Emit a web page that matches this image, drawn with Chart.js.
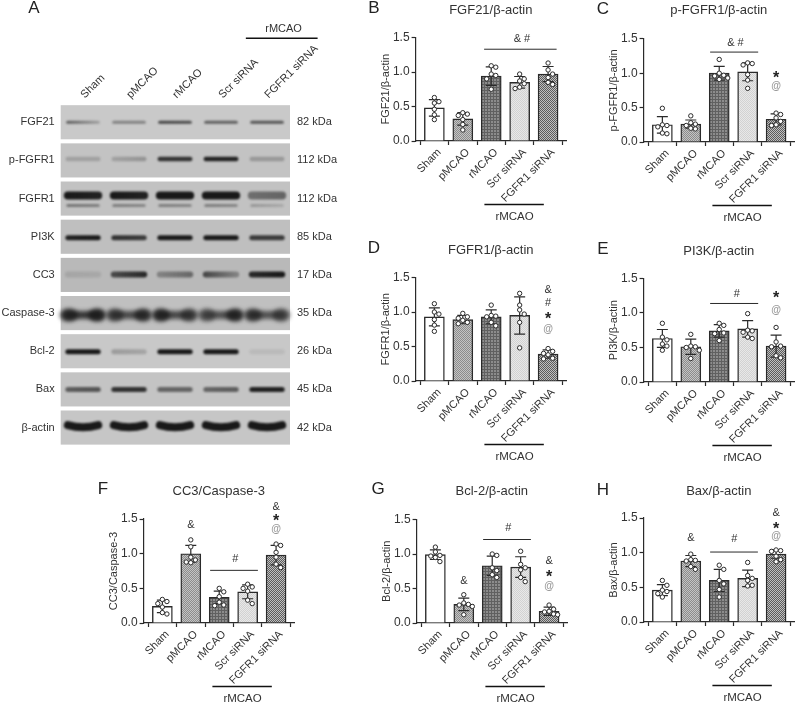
<!DOCTYPE html>
<html>
<head>
<meta charset="utf-8">
<title>Blots and densitometry</title>
<script src="https://cdn.jsdelivr.net/npm/chart.js@4"></script>
<style>
  html, body { margin: 0; padding: 0; background: #fff; }
  #page { position: relative; width: 800px; height: 703px; overflow: hidden; font-family: "Liberation Sans", Arial, sans-serif; }
  #page canvas { position: absolute; }
  .letter { position: absolute; font-size: 17px; line-height: 20px; color: #222; transform: translate(-50%, -50%); }
</style>
</head>
<body>
<div id="page"></div>
<script>
const groups = ['Sham', 'pMCAO', 'rMCAO', 'Scr siRNA', 'FGFR1 siRNA'];
const blotProteins = ['FGF21', 'p-FGFR1', 'FGFR1', 'PI3K', 'CC3', 'Caspase-3', 'Bcl-2', 'Bax', 'β-actin'];
const blotSizes = ['82 kDa', '112 kDa', '112 kDa', '85 kDa', '17 kDa', '35 kDa', '26 kDa', '45 kDa', '42 kDa'];
const yTicks = [0, 0.5, 1, 1.5];

// Bar heights, SD and the single animals
const fgf21Means = [0.48, 0.32, 0.94, 0.85, 0.97];
const fgf21Sd = [0.12, 0.09, 0.135, 0.085, 0.11];
const fgf21Dots = [[0.63, 0.57, 0.55, 0.46, 0.38, 0.31], [0.41, 0.39, 0.37, 0.31, 0.24, 0.16], [1.09, 1.07, 0.97, 0.95, 0.90, 0.75], [0.97, 0.90, 0.87, 0.83, 0.78, 0.76], [1.13, 1.03, 0.97, 0.92, 0.85, 0.82]];

const pFgfr1Means = [0.25, 0.26, 1.0, 1.02, 0.33];
const pFgfr1Sd = [0.12, 0.06, 0.1, 0.13, 0.08];
const pFgfr1Dots = [[0.49, 0.25, 0.24, 0.22, 0.13, 0.12], [0.38, 0.28, 0.26, 0.24, 0.2, 0.19], [1.2, 1.0, 0.97, 0.96, 0.93, 0.91], [1.15, 1.14, 1.12, 0.98, 0.9, 0.78], [0.42, 0.40, 0.35, 0.30, 0.25, 0.24]];

const fgfr1Means = [0.93, 0.89, 0.93, 0.95, 0.39];
const fgfr1Sd = [0.13, 0.06, 0.1, 0.27, 0.06];
const fgfr1Dots = [[1.12, 1.0, 0.97, 0.89, 0.81, 0.72], [0.98, 0.93, 0.91, 0.88, 0.85, 0.83], [1.1, 0.95, 0.94, 0.93, 0.85, 0.8], [1.27, 1.1, 1.03, 0.97, 0.85, 0.48], [0.47, 0.43, 0.4, 0.38, 0.33, 0.32]];

const pi3kMeans = [0.63, 0.51, 0.74, 0.77, 0.52];
const pi3kSd = [0.13, 0.11, 0.09, 0.12, 0.16];
const pi3kDots = [[0.85, 0.65, 0.61, 0.55, 0.52, 0.46], [0.69, 0.52, 0.51, 0.50, 0.46, 0.34], [0.85, 0.82, 0.76, 0.71, 0.7, 0.6], [0.99, 0.75, 0.74, 0.72, 0.65, 0.63], [0.79, 0.58, 0.52, 0.51, 0.38, 0.35]];

const cc3Means = [0.24, 1.0, 0.37, 0.45, 0.98];
const cc3Sd = [0.09, 0.12, 0.09, 0.1, 0.14];
const cc3Dots = [[0.34, 0.31, 0.28, 0.23, 0.15, 0.13], [1.2, 1.1, 0.95, 0.91, 0.88, 0.87], [0.5, 0.45, 0.38, 0.3, 0.26, 0.25], [0.56, 0.52, 0.5, 0.46, 0.33, 0.28], [1.14, 1.12, 1.02, 0.95, 0.85, 0.8]];

const bcl2Means = [0.99, 0.27, 0.83, 0.81, 0.17];
const bcl2Sd = [0.07, 0.09, 0.14, 0.15, 0.06];
const bcl2Dots = [[1.1, 1.03, 0.98, 0.97, 0.95, 0.89], [0.41, 0.29, 0.27, 0.26, 0.24, 0.12], [1.0, 0.98, 0.8, 0.76, 0.7, 0.66], [1.04, 0.85, 0.8, 0.77, 0.66, 0.6], [0.26, 0.2, 0.17, 0.16, 0.13, 0.12]];

const baxMeans = [0.46, 0.88, 0.6, 0.63, 0.98];
const baxSd = [0.08, 0.08, 0.16, 0.12, 0.06];
const baxDots = [[0.6, 0.53, 0.46, 0.44, 0.41, 0.36], [0.98, 0.9, 0.89, 0.88, 0.8, 0.76], [0.82, 0.76, 0.6, 0.55, 0.47, 0.36], [0.86, 0.67, 0.63, 0.6, 0.53, 0.52], [1.04, 1.03, 1.02, 0.95, 0.9, 0.87]];

// Band darkness per lane, left and right half of the band
const bandFgf21 = [[0.6, 0.25], [0.4, 0.4], [0.75, 0.7], [0.6, 0.6], [0.65, 0.65]];
const bandPFgfr1 = [[0.2, 0.2], [0.2, 0.28], [0.85, 0.85], [0.95, 0.95], [0.25, 0.25]];
const bandFgfr1 = [[1, 0.95], [1, 0.95], [1, 1], [1, 1], [0.5, 0.55]];
const bandFgfr1Lower = [[0.45, 0.4], [0.4, 0.35], [0.4, 0.35], [0.4, 0.35], [0.25, 0.15]];
const bandPi3k = [[0.95, 1], [0.85, 0.8], [1, 1], [1, 1], [0.8, 0.8]];
const bandCc3 = [[0.12, 0.1], [0.7, 0.9], [0.35, 0.5], [0.7, 0.35], [0.9, 1]];
const bandCaspase3 = [[0.8, 0.85], [0.65, 0.75], [0.8, 0.65], [0.55, 0.8], [0.7, 0.6]];
const bandBcl2 = [[1, 1], [0.25, 0.2], [1, 1], [1, 1], [0.08, 0.08]];
const bandBax = [[0.6, 0.65], [0.85, 0.85], [0.55, 0.55], [0.55, 0.6], [0.95, 0.95]];
const bandActin = [[1, 1], [1, 1], [1, 1], [1, 1], [1, 1]];

const FONT = '"Liberation Sans", Arial, sans-serif';
const INK = '#2a2a2a';
const TEXT = '#333';
Chart.defaults.font.family = FONT;
Chart.defaults.color = TEXT;
Chart.defaults.animation = false;

const page = document.getElementById('page');

function addCanvas(left, top, width, height) {
  const c = document.createElement('canvas');
  c.width = width;
  c.height = height;
  c.style.left = left + 'px';
  c.style.top = top + 'px';
  c.style.width = width + 'px';
  c.style.height = height + 'px';
  page.appendChild(c);
  return c;
}

function addLetter(text, x, y) {
  const d = document.createElement('div');
  d.className = 'letter';
  d.textContent = text;
  d.style.left = x + 'px';
  d.style.top = y + 'px';
  page.appendChild(d);
}

// Bar fills, Prism style fine hatches
function hatch(size, paint) {
  const c = document.createElement('canvas');
  c.width = size;
  c.height = size;
  paint(c.getContext('2d'));
  return c.getContext('2d').createPattern(c, 'repeat');
}

function checker(dark, light) {
  return hatch(2, g => {
    g.fillStyle = light;
    g.fillRect(0, 0, 2, 2);
    g.fillStyle = dark;
    g.fillRect(0, 0, 1, 1);
    g.fillRect(1, 1, 1, 1);
  });
}

const fills = [
  '#ffffff',
  checker('#8c8c8c', '#c4c4c4'),
  hatch(3, g => { g.fillStyle = '#8c8c8c'; g.fillRect(0, 0, 3, 3); g.fillStyle = '#606060'; g.fillRect(0, 0, 3, 1); g.fillRect(0, 0, 1, 3); }),
  checker('#d2d2d2', '#e8e8e8'),
  checker('#5c5c5c', '#c0c0c0')
];

// Spread dots sideways where they would sit on top of each other
function swarm(values, group) {
  const placed = [];
  values.forEach(v => {
    const steps = [0, 0.16, -0.16, 0.3, -0.3];
    const dx = steps.find(s => !placed.some(p => Math.abs(p.y - v) < 0.07 && Math.abs(p.x - group - s) < 0.13));
    placed.push({ x: group + (dx === undefined ? 0 : dx), y: v });
  });
  return placed;
}

const noteStyle = {
  '&': { font: '11px ' + FONT, color: '#333', dy: 0 },
  '& #': { font: '11px ' + FONT, color: '#333', dy: 0 },
  '#': { font: '11px ' + FONT, color: '#333', dy: 0 },
  '*': { font: 'bold 16px ' + FONT, color: '#222', dy: 2.5 },
  '@': { font: 'bold 10px ' + FONT, color: '#999', dy: 0 }
};

function drawNote(ctx, text, x, y) {
  const s = noteStyle[text];
  ctx.font = s.font;
  ctx.fillStyle = s.color;
  ctx.textAlign = 'center';
  ctx.textBaseline = 'middle';
  ctx.fillText(text, x, y + s.dy);
}

function barPanel(p) {
  const LEFT = 36.6, WIDTH = 154.4, PLOT = 103.2, BELOW = 84;
  const titleTop = p.titleY - 7.8;
  const canvas = addCanvas(p.axisX - LEFT, titleTop, Math.ceil(LEFT + WIDTH + 1), Math.ceil(p.top - titleTop + PLOT + BELOW));

  const marks = {
    id: 'marks',
    afterDatasetDraw(chart, args) {
      if (args.index !== 0) return;
      const { ctx, scales: { x, y } } = chart;
      ctx.save();
      ctx.strokeStyle = INK;
      ctx.lineWidth = 1.2;
      p.means.forEach((m, i) => {
        const px = x.getPixelForValue(i), hi = y.getPixelForValue(m + p.sd[i]), lo = y.getPixelForValue(m - p.sd[i]);
        ctx.beginPath();
        ctx.moveTo(px, hi); ctx.lineTo(px, lo);
        ctx.moveTo(px - 5.5, hi); ctx.lineTo(px + 5.5, hi);
        ctx.moveTo(px - 5.5, lo); ctx.lineTo(px + 5.5, lo);
        ctx.stroke();
      });
      ctx.restore();
    },
    afterDraw(chart) {
      const { ctx, scales: { x, y }, chartArea } = chart;
      ctx.save();
      ctx.strokeStyle = INK;
      ctx.lineWidth = 1;
      (p.spans || []).forEach(s => {
        ctx.beginPath();
        ctx.moveTo(x.getPixelForValue(s[0]), y.getPixelForValue(s[2]));
        ctx.lineTo(x.getPixelForValue(s[1]), y.getPixelForValue(s[2]));
        ctx.stroke();
      });
      p.notes.forEach(n => drawNote(ctx, n[0], x.getPixelForValue(n[1]), y.getPixelForValue(n[2])));
      // rMCAO bracket under the labels
      ctx.strokeStyle = '#111';
      ctx.lineWidth = 1.6;
      ctx.beginPath();
      ctx.moveTo(x.getPixelForValue(1.76), chartArea.bottom + 63.5);
      ctx.lineTo(x.getPixelForValue(3.85), chartArea.bottom + 63.5);
      ctx.stroke();
      ctx.font = '11.5px ' + FONT;
      ctx.fillStyle = TEXT;
      ctx.textAlign = 'center';
      ctx.textBaseline = 'middle';
      ctx.fillText('rMCAO', x.getPixelForValue(2.82), chartArea.bottom + 76);
      ctx.restore();
    }
  };

  new Chart(canvas, {
    data: {
      datasets: [
        {
          type: 'bar',
          order: 2,
          data: p.means.map((m, i) => ({ x: i, y: m })),
          backgroundColor: fills,
          borderColor: INK,
          borderWidth: 1.4,
          barThickness: 20
        },
        {
          type: 'scatter',
          order: 1,
          clip: false,
          data: p.dots.flatMap((vals, i) => swarm(vals, i)),
          pointRadius: 2.2,
          pointBorderWidth: 1,
          pointBackgroundColor: '#fff',
          pointBorderColor: INK
        }
      ]
    },
    options: {
      responsive: false,
      layout: { padding: 0 },
      plugins: {
        legend: { display: false },
        tooltip: { enabled: false },
        title: {
          display: true,
          text: p.title,
          fullSize: false,
          color: TEXT,
          font: { size: 13, weight: 'normal' },
          padding: { top: 0, bottom: p.top - titleTop - 15.6 }
        }
      },
      scales: {
        x: {
          type: 'linear',
          offset: false,
          min: -0.66,
          max: 4.63,
          afterFit: s => { s.height = BELOW; },
          afterBuildTicks: s => { s.ticks = groups.map((g, i) => ({ value: i })); },
          border: { color: INK, width: 1.2 },
          grid: { drawOnChartArea: false, color: INK, tickLength: 4, tickWidth: 1.2 },
          ticks: {
            autoSkip: false, minRotation: 45, maxRotation: 45, padding: 1, labelOffset: 5, color: TEXT,
            font: { size: 11 },
            callback: v => groups[v]
          }
        },
        y: {
          min: 0,
          max: 1.5,
          afterFit: s => { s.width = LEFT; },
          afterBuildTicks: s => { s.ticks = yTicks.map(v => ({ value: v })); },
          border: { color: INK, width: 1.2 },
          grid: { drawOnChartArea: false, color: INK, tickLength: 4, tickWidth: 1.2 },
          title: { display: true, text: p.title, color: TEXT, font: { size: 11 }, padding: 0 },
          ticks: { padding: 2, color: TEXT, font: { size: 12 }, callback: v => v.toFixed(1) }
        }
      }
    },
    plugins: [marks]
  });
}

barPanel({
  title: 'FGF21/β-actin', axisX: 415.7, top: 37.7, titleY: 11,
  means: fgf21Means, sd: fgf21Sd, dots: fgf21Dots,
  spans: [[1.75, 4.3, 1.33]],
  notes: [['& #', 3.08, 1.476]]
});
barPanel({
  title: 'p-FGFR1/β-actin', axisX: 644, top: 39, titleY: 11,
  means: pFgfr1Means, sd: pFgfr1Sd, dots: pFgfr1Dots,
  spans: [[1.68, 3.37, 1.307]],
  notes: [['& #', 2.57, 1.44], ['*', 4, 0.96], ['@', 4, 0.81]]
});
barPanel({
  title: 'FGFR1/β-actin', axisX: 415.7, top: 277.7, titleY: 251,
  means: fgfr1Means, sd: fgfr1Sd, dots: fgfr1Dots,
  notes: [['&', 4, 1.32], ['#', 4, 1.127], ['*', 4, 0.93], ['@', 4, 0.75]]
});
barPanel({
  title: 'PI3K/β-actin', axisX: 644, top: 278.3, titleY: 251.7,
  means: pi3kMeans, sd: pi3kSd, dots: pi3kDots,
  spans: [[1.68, 3.37, 1.137]],
  notes: [['#', 2.62, 1.28], ['*', 4, 1.24], ['@', 4, 1.035]]
});
barPanel({
  title: 'CC3/Caspase-3', axisX: 143.3, top: 519.3, titleY: 492,
  means: cc3Means, sd: cc3Sd, dots: cc3Dots,
  spans: [[1.68, 3.36, 0.76]],
  notes: [['&', 1, 1.417], ['#', 2.57, 0.92], ['&', 4, 1.67], ['*', 4, 1.5], ['@', 4, 1.355]]
});
barPanel({
  title: 'Bcl-2/β-actin', axisX: 416.7, top: 519, titleY: 491.3,
  means: bcl2Means, sd: bcl2Sd, dots: bcl2Dots,
  spans: [[1.68, 3.36, 1.21]],
  notes: [['&', 1, 0.605], ['#', 2.57, 1.38], ['&', 4, 0.9], ['*', 4, 0.7], ['@', 4, 0.53]]
});
barPanel({
  title: 'Bax/β-actin', axisX: 644, top: 518.3, titleY: 492,
  means: baxMeans, sd: baxSd, dots: baxDots,
  spans: [[1.68, 3.36, 1.01]],
  notes: [['&', 1, 1.22], ['#', 2.53, 1.195], ['&', 4, 1.57], ['*', 4, 1.375], ['@', 4, 1.24]]
});

// Blot panel: rows and lanes live on two linear scales, bands are painted through them
const blotBands = [
  { row: 0, lanes: bandFgf21, thick: 3.2, shift: 0, sag: 0, back: '#c9c9c9' },
  { row: 1, lanes: bandPFgfr1, thick: 4.5, shift: -1.5, sag: 0, back: '#c3c3c3' },
  { row: 2, lanes: bandFgfr1, thick: 8, shift: -3, sag: 0, back: '#c2c2c2' },
  { row: 2, lanes: bandFgfr1Lower, thick: 3, shift: 7, sag: 0 },
  { row: 3, lanes: bandPi3k, thick: 5, shift: 1, sag: 0, back: '#bfbfbf' },
  { row: 4, lanes: bandCc3, thick: 6, shift: -0.5, sag: 0, back: '#b9b9b9' },
  { row: 5, lanes: bandCaspase3, thick: 8, shift: 2, sag: 0, back: '#c0c0c0', lobes: 6.5, blur: 2 },
  { row: 6, lanes: bandBcl2, thick: 5, shift: 0.5, sag: 0, back: '#c8c8c8' },
  { row: 7, lanes: bandBax, thick: 5, shift: 0, sag: 0, back: '#c4c4c4' },
  { row: 8, lanes: bandActin, thick: 8, shift: -1, sag: 3, back: '#c6c6c6' }
];

const blotPaint = {
  id: 'blotPaint',
  beforeDatasetsDraw(chart) {
    const { ctx, scales: { x, y }, chartArea } = chart;
    ctx.save();
    blotBands.filter(b => b.back).forEach(b => {
      const t = y.getPixelForValue(b.row - 0.447), h = y.getPixelForValue(b.row + 0.447) - t;
      ctx.fillStyle = b.back;
      ctx.fillRect(chartArea.left, t, chartArea.width, h);
    });
    ctx.lineCap = 'round';
    blotBands.forEach(b => {
      ctx.filter = 'blur(' + (b.blur || 1.2) + 'px)';
      const cy = y.getPixelForValue(b.row) + b.shift;
      b.lanes.forEach((pair, lane) => {
        const x0 = x.getPixelForValue(lane - 0.33), x1 = x.getPixelForValue(lane + 0.33);
        const grad = ctx.createLinearGradient(x0, 0, x1, 0);
        grad.addColorStop(0, 'rgba(25,25,25,' + pair[0] + ')');
        grad.addColorStop(1, 'rgba(25,25,25,' + pair[1] + ')');
        ctx.strokeStyle = grad;
        ctx.lineWidth = b.thick;
        ctx.beginPath();
        ctx.moveTo(x0, cy - b.sag / 2);
        ctx.quadraticCurveTo((x0 + x1) / 2, cy + b.sag, x1, cy - b.sag / 2);
        ctx.stroke();
        if (b.lobes) {
          pair.forEach((a, k) => {
            ctx.fillStyle = 'rgba(25,25,25,' + a + ')';
            ctx.beginPath();
            ctx.ellipse(k ? x1 - 1 : x0 + 1, cy, 9, b.lobes, 0, 0, Math.PI * 2);
            ctx.fill();
          });
        }
      });
    });
    ctx.filter = 'none';
    ctx.restore();
  },
  afterDraw(chart) {
    const { ctx, scales: { x, y } } = chart;
    ctx.save();
    ctx.strokeStyle = '#111';
    ctx.lineWidth = 1.6;
    ctx.beginPath();
    ctx.moveTo(x.getPixelForValue(3.54), y.getPixelForValue(-2.2));
    ctx.lineTo(x.getPixelForValue(5.1), y.getPixelForValue(-2.2));
    ctx.stroke();
    ctx.font = '11px ' + FONT;
    ctx.fillStyle = TEXT;
    ctx.textAlign = 'center';
    ctx.textBaseline = 'middle';
    ctx.fillText('rMCAO', x.getPixelForValue(4.36), y.getPixelForValue(-2.44));
    ctx.restore();
  }
};

new Chart(addCanvas(0, 0, 345, 460), {
  type: 'scatter',
  data: { datasets: [{ data: [], pointRadius: 0 }] },
  options: {
    responsive: false,
    layout: { padding: { bottom: 15 } },
    plugins: { legend: { display: false }, tooltip: { enabled: false } },
    scales: {
      x: {
        type: 'linear',
        position: 'top',
        min: -0.485,
        max: 4.5,
        afterFit: s => { s.height = 105.3; },
        afterBuildTicks: s => { s.ticks = groups.map((g, i) => ({ value: i })); },
        border: { display: false },
        grid: { display: false, drawTicks: false },
        ticks: { autoSkip: false, minRotation: 45, maxRotation: 45, padding: 4, labelOffset: 9, color: TEXT, font: { size: 11 }, callback: v => groups[v] }
      },
      y: {
        min: -0.444,
        max: 8.457,
        reverse: true,
        afterFit: s => { s.width = 60.7; },
        afterBuildTicks: s => { s.ticks = blotProteins.map((g, i) => ({ value: i })); },
        border: { display: false },
        grid: { display: false, drawTicks: false },
        ticks: { padding: 6, color: TEXT, font: { size: 11 }, callback: v => blotProteins[v] }
      },
      kda: {
        position: 'right',
        min: -0.444,
        max: 8.457,
        reverse: true,
        afterFit: s => { s.width = 55; },
        afterBuildTicks: s => { s.ticks = blotSizes.map((g, i) => ({ value: i })); },
        border: { display: false },
        grid: { display: false, drawTicks: false },
        ticks: { padding: 7, color: TEXT, font: { size: 11 }, callback: v => blotSizes[v] }
      }
    }
  },
  plugins: [blotPaint]
});

addLetter('A', 34, 8);
addLetter('B', 374, 8);
addLetter('C', 603, 9);
addLetter('D', 374, 248);
addLetter('E', 603, 249);
addLetter('F', 103, 489);
addLetter('G', 378, 489);
addLetter('H', 603, 490);
</script>
</body>
</html>
